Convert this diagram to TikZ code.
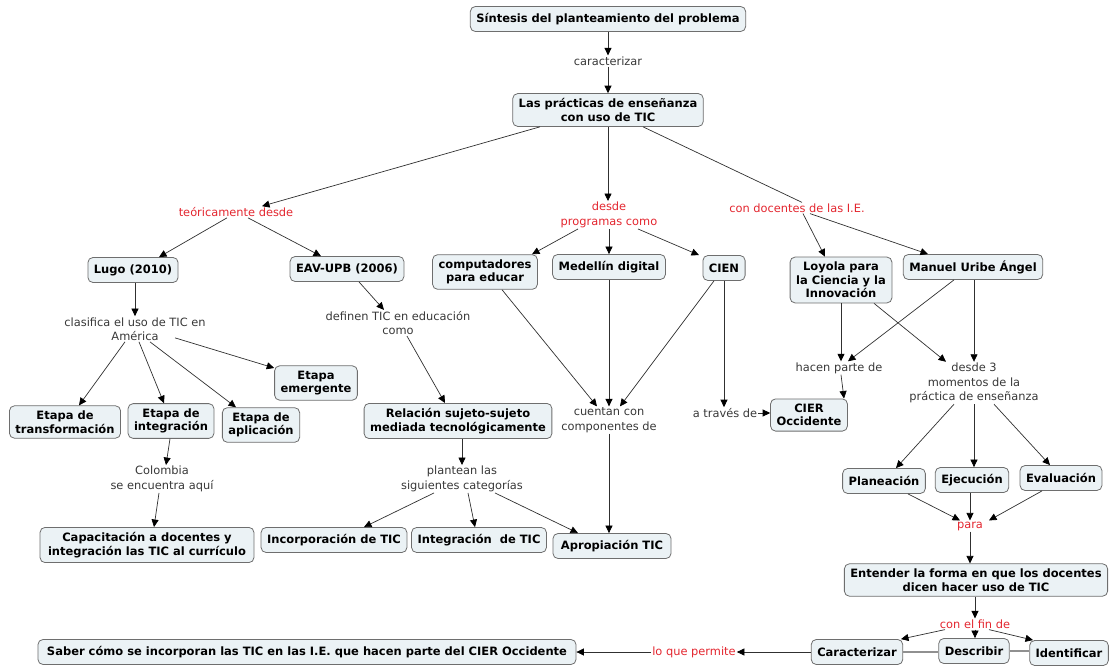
\documentclass[tikz,border=0pt]{standalone}
\usepackage{fontspec}
\setmainfont{DejaVu Sans}
\usetikzlibrary{arrows.meta}
\definecolor{nodefill}{HTML}{EBF2F5}
\definecolor{nodeline}{HTML}{6E6E6E}
\definecolor{lblred}{HTML}{E3262F}
\definecolor{lblgray}{HTML}{383838}
\definecolor{linkgray}{HTML}{303030}
\definecolor{softgray}{HTML}{909090}
\begin{document}
\begin{tikzpicture}[x=1pt,y=-1pt,
  concept/.style={draw=nodeline, fill=nodefill, rounded corners=5pt, line width=0.8pt,
    font=\fontsize{11.5}{13.5}\selectfont\bfseries, align=center,
    inner xsep=6pt, inner ysep=5pt, minimum height=25pt},
  lbl/.style={font=\fontsize{11.4}{14.5}\selectfont, text=lblgray, align=center, inner sep=1pt},
  rlbl/.style={lbl, text=lblred},
  link/.style={draw=linkgray, line width=0.7pt},
  arr/.style={link, -{Triangle[length=7.5pt,width=7pt,color=black]}},
  plain/.style={draw=softgray, line width=1.2pt}
]
\useasboundingbox (0,0) rectangle (1112,666);

% concepts
\node[concept] (s1) at (608,19) {Síntesis del planteamiento del problema};
\node[concept] (l1) at (608,110) {Las prácticas de enseñanza\\con uso de TIC};
\node[concept] (lugo) at (133,270) {Lugo (2010)};
\node[concept] (eav) at (347,269) {EAV-UPB (2006)};
\node[concept] (comp) at (485,272) {computadores\\para educar};
\node[concept] (med) at (609,267) {Medellín digital};
\node[concept] (cien) at (724,268) {CIEN};
\node[concept] (loy) at (841,280) {Loyola para\\la Ciencia y la\\Innovación};
\node[concept] (man) at (973,267) {Manuel Uribe Ángel};
\node[concept] (eem) at (316,383) {Etapa\\emergente};
\node[concept] (etr) at (65,422) {Etapa de\\transformación};
\node[concept] (eint) at (171,421) {Etapa de\\integración};
\node[concept] (eapl) at (261,425) {Etapa de\\aplicación};
\node[concept] (rel) at (458,421) {Relación sujeto-sujeto\\mediada tecnológicamente};
\node[concept] (cier) at (809,415) {CIER\\Occidente};
\node[concept] (pla) at (884,481) {Planeación};
\node[concept] (eje) at (972,480) {Ejecución};
\node[concept] (eva) at (1061,478) {Evaluación};
\node[concept] (ent) at (976,580) {Entender la forma en que los docentes\\dicen hacer uso de TIC};
\node[concept] (carz) at (857,652) {Caracterizar};
\node[concept] (desc) at (974,651) {Describir};
\node[concept] (iden) at (1069,653) {Identificar};
\node[concept, inner xsep=9pt] (saber) at (307,652) {Saber cómo se incorporan las TIC en las I.E. que hacen parte del CIER Occidente};
\node[concept, inner xsep=8pt] (cap) at (147,545) {Capacitación a docentes y\\integración las TIC al currículo};
\node[concept] (inc) at (334,540) {Incorporación de TIC};
\node[concept] (integ) at (479,540) {Integración\ \ de TIC};
\node[concept, inner xsep=8pt] (apr) at (612,546) {Apropiación TIC};

% linking phrases
\node[lbl] (car) at (608,61) {caracterizar};
\node[rlbl] (teo) at (236,212) {teóricamente desde};
\node[rlbl] (prog) at (609,215) {desde\\programas como};
\node[rlbl] (doc) at (797,208) {con docentes de las I.E.};
\node[lbl] (clas) at (135,329) {clasifica el uso de TIC en\\América};
\node[lbl] (def) at (398,323) {definen TIC en educación\\como};
\node[lbl] (col) at (162,479) {Colombia\\se encuentra aquí};
\node[lbl] (plan) at (462,479) {plantean las\\siguientes categorías};
\node[lbl] (cuen) at (609,420) {cuentan con\\componentes de};
\node[lbl] (atr) at (725,413) {a través de};
\node[lbl] (hac) at (839,368) {hacen parte de};
\node[lbl] (d3) at (974,383) {desde 3\\momentos de la\\práctica de enseñanza};
\node[rlbl] (para) at (970,526) {para};
\node[rlbl] (fin) at (975,624) {con el fin de};
\node[rlbl] (lqp) at (694,652) {lo que permite};

% connectors
\draw[arr] (s1.south -| car.north) -- (car.north);
\draw[arr] (car.south) -- (car.south |- l1.north);
\draw[arr] ([xshift=-68pt]l1.south) -- ([xshift=26pt]teo.north);
\draw[arr] (l1.south) -- (l1.south |- prog.north);
\draw[link] ([xshift=35pt]l1.south) -- ([xshift=5pt]doc.north);
\draw[arr] ([xshift=6pt]doc.south) -- ([xshift=-16pt]loy.north);
\draw[arr] ([xshift=13pt]doc.south) -- ([xshift=-45pt]man.north);

\draw[arr] ([xshift=-9pt]teo.south) -- ([xshift=26pt]lugo.north);
\draw[arr] ([xshift=12pt]teo.south) -- ([xshift=-26pt]eav.north);

\draw[arr] ([xshift=-31pt]prog.south) -- ([xshift=47pt]comp.north);
\draw[arr] (prog.south) -- (prog.south |- med.north);
\draw[arr] ([xshift=29pt]prog.south) -- ([xshift=-25pt]cien.north);

\draw[arr] (clas.north |- lugo.south) -- (clas.north);
\draw[arr] ([xshift=-10pt]clas.south) -- ([xshift=14pt]etr.north);
\draw[arr] ([xshift=4pt]clas.south) -- ([xshift=-7pt]eint.north);
\draw[arr] ([xshift=15pt]clas.south) -- ([xshift=-25pt]eapl.north);
\draw[arr] ([xshift=40pt,yshift=4pt]clas.south) -- ([yshift=15pt]eem.west);

\draw[arr] ([xshift=12pt]eav.south) -- ([xshift=-14pt]def.north);
\draw[arr] ([xshift=9pt]def.south) -- ([xshift=-13pt]rel.north);

\draw[arr] ([xshift=-1pt]eint.south) -- ([xshift=4pt]col.north);
\draw[arr] ([xshift=-3pt]col.south) -- ([xshift=7pt]cap.north);

\draw[arr] (plan.north |- rel.south) -- (plan.north);
\draw[arr] ([xshift=-28pt]plan.south) -- ([xshift=30pt]inc.north);
\draw[arr] ([xshift=6pt]plan.south) -- ([xshift=-4pt]integ.north);
\draw[arr] ([xshift=33pt]plan.south) -- ([xshift=-34pt]apr.north);

\draw[arr] ([xshift=17pt]comp.south) -- ([xshift=-12pt]cuen.north);
\draw[arr] (med.south) -- (med.south |- cuen.north);
\draw[arr] ([xshift=-10pt]cien.south) -- ([xshift=11pt]cuen.north);
\draw[arr] (cuen.south) -- (cuen.south |- apr.north);
\draw[arr] (cien.south) -- (cien.south |- atr.north);
\draw[arr] (atr.east) -- (atr.east -| cier.west);

\draw[arr] (loy.south) -- ([xshift=2pt]hac.north);
\draw[arr] ([xshift=-19pt]man.south) -- ([xshift=9pt]hac.north);
\draw[arr] ([xshift=2pt]hac.south) -- ([xshift=35pt]cier.north);
\draw[arr] ([xshift=33pt]loy.south) -- ([xshift=-28pt]d3.north);
\draw[arr] (d3.north |- man.south) -- (d3.north);

\draw[arr] ([xshift=-20pt]d3.south) -- ([xshift=12pt]pla.north);
\draw[arr] (d3.south) -- (d3.south |- eje.north);
\draw[arr] ([xshift=20pt]d3.south) -- ([xshift=-11pt]eva.north);

\draw[arr] ([xshift=24pt]pla.south) -- ([xshift=-10pt]para.north);
\draw[arr] (para.north |- eje.south) -- (para.north);
\draw[arr] ([xshift=-19pt]eva.south) -- ([xshift=19pt]para.north);
\draw[arr] (para.south) -- (para.south |- ent.north);

\draw[arr] (fin.north |- ent.south) -- (fin.north);
\draw[arr] ([xshift=-30pt]fin.south) -- ([xshift=44pt]carz.north);
\draw[arr] (fin.south) -- (fin.south |- desc.north);
\draw[arr] ([xshift=14pt]fin.south) -- ([xshift=-36pt]iden.north);

\draw[arr] (carz.west) -- (carz.west -| lqp.east);
\draw[arr] (lqp.west) -- (lqp.west -| saber.east);
\draw[plain] (carz.east) -- (carz.east -| desc.west);
\draw[plain] (desc.east) -- (desc.east -| iden.west);
\end{tikzpicture}
\end{document}
